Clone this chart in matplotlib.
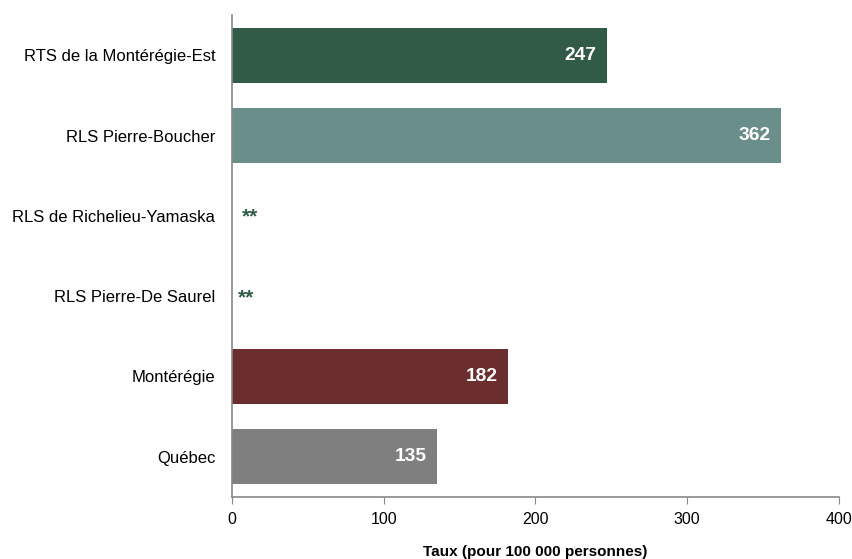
import matplotlib
matplotlib.use("Agg")
import matplotlib.pyplot as plt

categories = ["RTS de la Montérégie-Est", "RLS Pierre-Boucher", "RLS de Richelieu-Yamaska",
              "RLS Pierre-De Saurel", "Montérégie", "Québec"]
values = [247, 362, None, None, 182, 135]
labels = ["247", "362", "**", "**", "182", "135"]
colors = ["#325B47", "#6A8F8A", "#325B47", "#325B47", "#6B2D2D", "#7F7F7F"]
xticks = [0, 100, 200, 300, 400]

REG = ["Liberation Sans", "DejaVu Sans"]

fig = plt.figure(figsize=(8.53, 5.59), dpi=100)
ax = fig.add_axes([0.272, 0.111, 0.7115, 0.862])

ys = list(range(len(categories)))
for y, v, c, lab in zip(ys, values, colors, labels):
    if v is not None:
        ax.barh(y, v, height=0.68, color=c)
        ax.annotate(lab, xy=(v, y), xytext=(-7.5, 0), textcoords="offset points",
                    ha="right", va="center", color="white", fontsize=13.8,
                    fontweight="bold", family=REG)
    else:
        ax.annotate(lab, xy=(0, y), xytext=(7 if y == 2 else 4.5, -1), textcoords="offset points",
                    ha="left", va="center", color=c, fontsize=15,
                    fontweight="bold", family=REG)

ax.set_ylim(len(categories) - 0.5, -0.5)
ax.set_xlim(0, 400)
ax.set_yticks(ys)
ax.set_yticklabels(categories, fontsize=12, family=REG)
ax.set_xticks(xticks)
ax.set_xticklabels([str(t) for t in xticks], fontsize=11.5, family=REG)
ax.tick_params(axis="y", length=0, pad=12)
ax.tick_params(axis="x", length=5, color="#888888", pad=6)
for s in ["top", "right"]:
    ax.spines[s].set_visible(False)
for s in ["left", "bottom"]:
    ax.spines[s].set_color("#888888")
    ax.spines[s].set_linewidth(1.2)

ax.set_xlabel("Taux (pour 100 000 personnes)", fontsize=11, fontweight="bold",
              family=REG, labelpad=13)

fig.savefig("out.png", dpi=100)
